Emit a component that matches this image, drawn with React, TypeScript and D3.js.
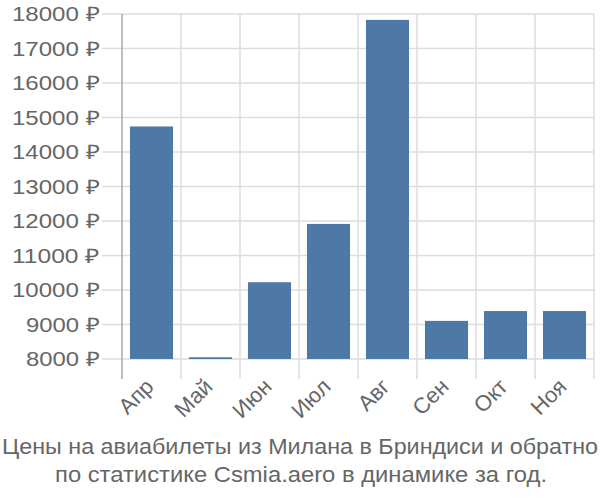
import React from "react";
import * as d3 from "d3";

const months = ["Апр", "Май", "Июн", "Июл", "Авг", "Сен", "Окт", "Ноя"];
const prices = [14740, 8050, 10225, 11915, 17830, 9105, 9390, 9390];
const yTicks = [8000, 9000, 10000, 11000, 12000, 13000, 14000, 15000, 16000, 17000, 18000];
const titleLines = [
  "Цены на авиабилеты из Милана в Бриндиси и обратно",
  "по статистике Csmia.aero в динамике за год.",
];

export default function App() {
  const W = 600, H = 500;
  const left = 122, right = 594, top = 14, bottom = 359;
  const x = d3.scaleBand<string>().domain(months).range([left, right]).paddingInner(0.27).paddingOuter(0.135);
  const xg = d3.scaleBand<string>().domain(months).range([left, right]);
  const y = d3.scaleLinear().domain([8000, 18000]).range([bottom, top]);
  const font = "'Liberation Sans', Arial, sans-serif";
  const grid = "#dddddd";
  const txt = "#666666";
  return (
    <svg width={W} height={H} style={{ position: "absolute", left: 0, top: 0 }} fontFamily={font}>
      <rect width={W} height={H} fill="#fff" />
      {yTicks.map((t) => (
        <g key={t}>
          <line x1={102} x2={right} y1={y(t)} y2={y(t)} stroke={grid} strokeWidth={1.5} />
          <text
            x={100 - (t >= 10000 ? 88 : 74)}
            y={y(t)}
            dy="0.36em"
            fontSize={20}
            fill={txt}
            textLength={t >= 10000 ? 88 : 74}
            lengthAdjust="spacingAndGlyphs"
          >
            {t} ₽
          </text>
        </g>
      ))}
      {months.map((m) => (
        <line key={m} x1={xg(m)! + xg.bandwidth()} x2={xg(m)! + xg.bandwidth()} y1={top} y2={bottom + 20} stroke={grid} strokeWidth={1.5} />
      ))}
      <line x1={left} x2={left} y1={top} y2={bottom + 20} stroke="#aaaaaa" strokeWidth={1.5} />
      {months.map((m, i) => (
        <rect key={m} x={x(m)} y={y(prices[i])} width={x.bandwidth()} height={bottom - y(prices[i])} fill="#4e79a7" />
      ))}
      {months.map((m) => {
        const cx = xg(m)! + xg.bandwidth() / 2 + 3.5;
        const cy = 388;
        return (
          <text key={m} transform={`translate(${cx},${cy}) rotate(-45)`} textAnchor="end" fontSize={22} fill={txt}>
            {m}
          </text>
        );
      })}
      <text x={2} y={454} fontSize={22} fill={txt} textLength={596} lengthAdjust="spacingAndGlyphs">
        {titleLines[0]}
      </text>
      <text x={55} y={482} fontSize={22} fill={txt} textLength={492} lengthAdjust="spacingAndGlyphs">
        {titleLines[1]}
      </text>
    </svg>
  );
}
